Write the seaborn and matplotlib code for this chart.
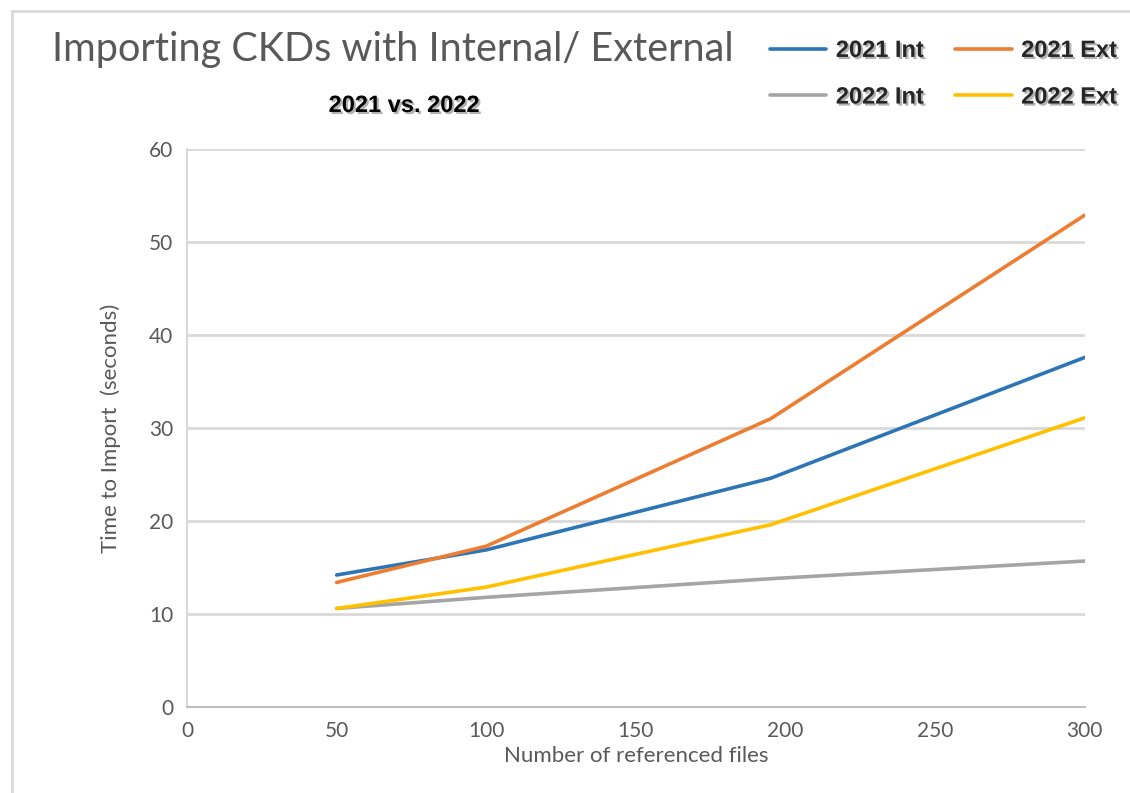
import pandas as pd
import seaborn as sns
import matplotlib.pyplot as plt
import matplotlib.patheffects as pe
from matplotlib.patches import Rectangle

# Data
files = [50, 100, 195, 300]
int_2021 = [14.2, 16.9, 24.6, 37.6]
ext_2021 = [13.4, 17.3, 31.0, 52.9]
int_2022 = [10.6, 11.8, 13.8, 15.7]
ext_2022 = [10.6, 12.9, 19.6, 31.1]
series_names = ["2021 Int", "2021 Ext", "2022 Int", "2022 Ext"]
colors = ["#2E75B6", "#ED7D31", "#A5A5A5", "#FFC000"]
x_ticks = [0, 50, 100, 150, 200, 250, 300]
y_ticks = [0, 10, 20, 30, 40, 50, 60]

rows = []
for name, vals in zip(series_names, [int_2021, ext_2021, int_2022, ext_2022]):
    for f, v in zip(files, vals):
        rows.append({"files": f, "time": v, "series": name})
df = pd.DataFrame(rows)

sns.set_style("white")
plt.rcParams['font.family'] = ['Lato', 'DejaVu Sans']

fig = plt.figure(figsize=(11.3, 7.93), dpi=100)
ax = fig.add_axes([0.1655, 0.1084, 0.7945, 0.7036])

sns.lineplot(data=df, x="files", y="time", hue="series", hue_order=series_names,
             palette=colors, linewidth=2.6, ax=ax, legend=False, sort=False)

ax.set_xlim(0, 300)
ax.set_ylim(0, 60)
ax.set_xticks(x_ticks)
ax.set_yticks(y_ticks)
ax.tick_params(axis='both', length=0, labelsize=15, labelcolor="#595959", pad=10)
ax.yaxis.grid(True, color="#D9D9D9", linewidth=2)
ax.set_axisbelow(True)
for s in ["top", "right"]:
    ax.spines[s].set_visible(False)
ax.spines["left"].set_color("#D9D9D9")
ax.spines["left"].set_linewidth(1.5)
ax.spines["bottom"].set_color("#BFBFBF")
ax.spines["bottom"].set_linewidth(1.5)

ax.set_xlabel("Number of referenced files", fontsize=16, color="#595959", labelpad=4)
ax.set_ylabel("Time to Import  (seconds)", fontsize=16, color="#595959", labelpad=20)

# Title and subtitle
fig.text(0.046, 0.937, "Importing CKDs with Internal/ External", fontsize=28.5,
         color="#595959", ha="left", va="center")
shadow = [pe.withSimplePatchShadow(offset=(1.5, -1.5), shadow_rgbFace="#808080", alpha=0.6)]
fig.text(0.358, 0.867, "2021 vs. 2022", fontsize=17, fontweight="bold",
         family=["Liberation Sans", "DejaVu Sans"], color="black",
         ha="center", va="center", path_effects=shadow)

# Legend (column-major fill, so reorder to get rows: 2021 / 2022)
order = [0, 2, 1, 3]
handles = [plt.Line2D([0], [0], color=colors[i], lw=2.6) for i in order]
labels = [series_names[i] for i in order]
leg = fig.legend(handles, labels, ncol=2, loc="center", frameon=False,
                 bbox_to_anchor=(0.835, 0.907), handlelength=2.4, handletextpad=0.4,
                 columnspacing=1.3, labelspacing=1.0,
                 prop={"family": ["Liberation Sans", "DejaVu Sans"], "weight": "bold", "size": 17})
for t in leg.get_texts():
    t.set_path_effects(shadow)

# Outer border
fig.patches.append(Rectangle((0.011, -0.01), 1.0, 0.996, transform=fig.transFigure,
                             fill=False, edgecolor="#D9D9D9", linewidth=2))

fig.savefig("out.png", dpi=100)
